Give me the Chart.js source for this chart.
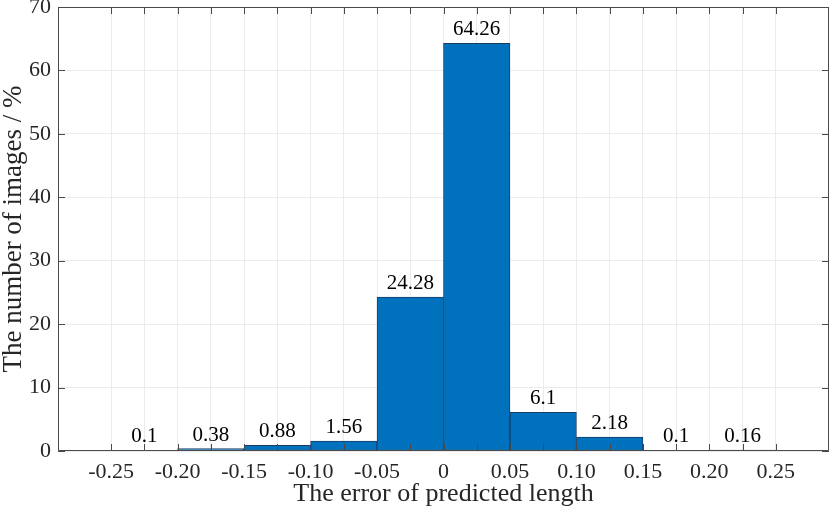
<!DOCTYPE html>
<html>
<head>
<meta charset="utf-8">
<script src="https://cdn.jsdelivr.net/npm/chart.js@4.4.1/dist/chart.umd.min.js"></script>
<style>
    html, body { margin: 0; padding: 0; background: #fff; }
    #wrap { width: 831px; height: 510px; }
</style>
</head>
<body>
<div id="wrap"><canvas id="histChart"></canvas></div>
<script>
// histogram bins (edges) and the share of images in each bin, in %
const binEdges = [-0.25, -0.20, -0.15, -0.10, -0.05, 0, 0.05, 0.10, 0.15, 0.20, 0.25];
const percentages = [0.1, 0.38, 0.88, 1.56, 24.28, 64.26, 6.1, 2.18, 0.1, 0.16];

// axis ticks: grid every 0.025, labels only every 0.05
const xTickValues = [-0.25, -0.225, -0.20, -0.175, -0.15, -0.125, -0.10, -0.075, -0.05, -0.025, 0,
    0.025, 0.05, 0.075, 0.10, 0.125, 0.15, 0.175, 0.20, 0.225, 0.25];
const xTickLabels = ['-0.25', '', '-0.20', '', '-0.15', '', '-0.10', '', '-0.05', '', '0',
    '', '0.05', '', '0.10', '', '0.15', '', '0.20', '', '0.25'];
const yTickValues = [0, 10, 20, 30, 40, 50, 60, 70];
const yTickLabels = ['0', '10', '20', '30', '40', '50', '60', '70'];

const X_MIN = -0.29, X_MAX = 0.29;
const serif = '"Liberation Serif", "Times New Roman", serif';
const axisColor = '#4a4a4a';
const textColor = '#262626';

// bars sit centred between two edges
const binCenters = binEdges.slice(0, -1).map((e, i) => (e + binEdges[i + 1]) / 2);
const points = binCenters.map((c, i) => ({ x: c, y: percentages[i] }));

// MATLAB-like box with inward tick marks on all four sides
const boxTicks = {
    id: 'boxTicks',
    afterDraw(chart) {
        const { ctx, chartArea: a, scales } = chart;
        const len = 7;
        ctx.save();
        ctx.strokeStyle = axisColor;
        ctx.lineWidth = 1;
        ctx.beginPath();
        ctx.rect(Math.round(a.left) + 0.5, Math.round(a.top) + 0.5,
            Math.round(a.right - a.left) - 1, Math.round(a.bottom - a.top) - 1);
        scales.x.ticks.forEach(t => {
            const px = Math.round(scales.x.getPixelForValue(t.value)) + 0.5;
            ctx.moveTo(px, a.bottom); ctx.lineTo(px, a.bottom - len);
            ctx.moveTo(px, a.top); ctx.lineTo(px, a.top + len);
        });
        scales.y.ticks.forEach(t => {
            const py = Math.round(scales.y.getPixelForValue(t.value)) + 0.5;
            ctx.moveTo(a.left, py); ctx.lineTo(a.left + len, py);
            ctx.moveTo(a.right, py); ctx.lineTo(a.right - len, py);
        });
        ctx.stroke();
        ctx.restore();
    }
};

// value written above each bar
const barLabels = {
    id: 'barLabels',
    afterDatasetsDraw(chart) {
        const { ctx } = chart;
        const meta = chart.getDatasetMeta(0);
        ctx.save();
        ctx.font = '21px ' + serif;
        ctx.fillStyle = '#000';
        ctx.textAlign = 'center';
        ctx.textBaseline = 'alphabetic';
        meta.data.forEach((bar, i) => {
            ctx.fillText(String(percentages[i]), bar.x, bar.y - 8);
        });
        ctx.restore();
    }
};

const ctx = document.getElementById('histChart').getContext('2d');
new Chart(ctx, {
    type: 'bar',
    data: {
        datasets: [{
            data: points,
            xAxisID: 'xBins',
            backgroundColor: '#0072BD',
            borderColor: '#1c3d63',
            borderWidth: 1,
            borderSkipped: false,
            barPercentage: 1,
            categoryPercentage: 1
        }]
    },
    options: {
        responsive: true,
        maintainAspectRatio: false,
        animation: false,
        layout: { padding: { top: 7, right: 2, left: 0, bottom: 0 } },
        plugins: {
            legend: { display: false },
            tooltip: { enabled: false }
        },
        scales: {
            // hidden axis used only to size the bars (one tick per bin edge)
            xBins: {
                type: 'linear',
                display: false,
                offset: false,
                min: X_MIN,
                max: X_MAX,
                grid: { offset: false },
                afterBuildTicks: axis => { axis.ticks = binEdges.map(v => ({ value: v })); }
            },
            x: {
                type: 'linear',
                position: 'bottom',
                offset: false,
                min: X_MIN,
                max: X_MAX,
                afterBuildTicks: axis => { axis.ticks = xTickValues.map(v => ({ value: v })); },
                afterFit: axis => { axis.height = 59; axis.paddingLeft = 0; axis.paddingRight = 0; },
                grid: { color: '#ebebeb', drawTicks: false, offset: false },
                border: { display: false },
                ticks: {
                    autoSkip: false,
                    maxRotation: 0,
                    padding: 8,
                    color: textColor,
                    font: { family: serif, size: 22 },
                    callback: (v, i) => xTickLabels[i]
                },
                title: {
                    display: true,
                    text: 'The error of predicted length',
                    color: textColor,
                    font: { family: serif, size: 26, lineHeight: 1.1 },
                    padding: { top: 0, bottom: 1.5 }
                }
            },
            y: {
                min: 0,
                max: 70,
                afterBuildTicks: axis => { axis.ticks = yTickValues.map(v => ({ value: v })); },
                afterFit: axis => { axis.width = 58; axis.paddingTop = 0; axis.paddingBottom = 0; },
                grid: { color: '#ebebeb', drawTicks: false },
                border: { display: false },
                ticks: {
                    padding: 7,
                    color: textColor,
                    font: { family: serif, size: 22 },
                    callback: (v, i) => yTickLabels[i]
                },
                title: {
                    display: true,
                    text: 'The number of images / %',
                    color: textColor,
                    font: { family: serif, size: 27, lineHeight: 1.05 },
                    padding: { top: 0, bottom: 0 }
                }
            }
        }
    },
    plugins: [barLabels, boxTicks]
});
</script>
</body>
</html>
